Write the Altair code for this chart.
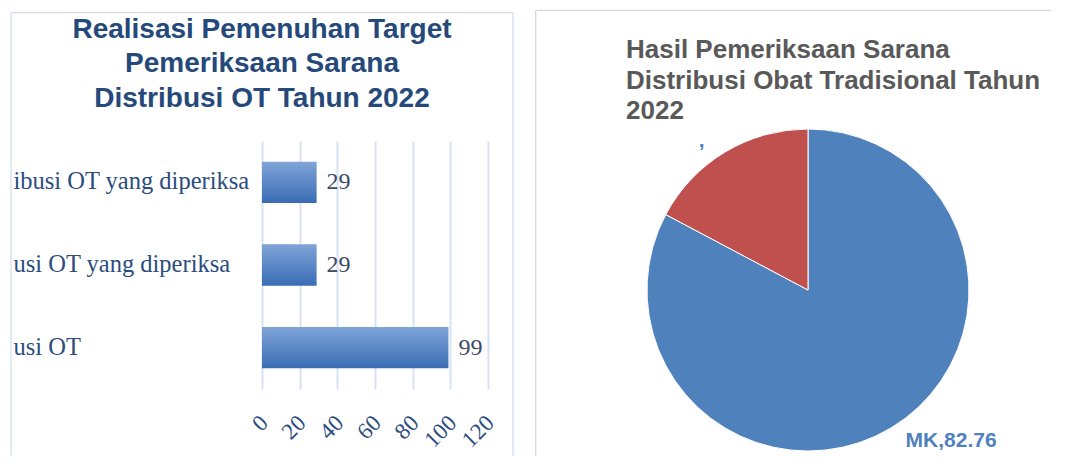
import altair as alt
import pandas as pd

# ---- data ----
bar_categories = ["ibusi OT yang diperiksa", "usi OT yang diperiksa", "usi OT"]
bar_values = [29, 29, 99]
x_ticks = [0, 20, 40, 60, 80, 100, 120]

pie_names = ["MK", "TMK"]
pie_values = [82.76, 17.24]
pie_labels = ["MK,82.76", ","]
pie_order = [0, 1]

left_title = ["Realisasi Pemenuhan Target", "Pemeriksaan Sarana", "Distribusi OT Tahun 2022"]
right_title = ["Hasil Pemeriksaan Sarana", "Distribusi Obat Tradisional Tahun", "2022"]

bar_df = pd.DataFrame({"kategori": bar_categories, "nilai": bar_values})
pie_df = pd.DataFrame({"nama": pie_names, "nilai": pie_values, "label": pie_labels, "urut": pie_order})
one = pd.DataFrame({"k": [0]})

SERIF = "Liberation Serif"
SANS = "Liberation Sans"
AXIS_BLUE = "#2B4C7E"

# ---- left: horizontal bar chart ----
y_axis = alt.Axis(title=None, domain=False, ticks=False, tickSize=0, grid=False,
                  labelAlign="left", labelPadding=249, labelFont=SERIF, labelFontSize=24.5,
                  labelColor=AXIS_BLUE, labelLimit=300)
x_axis = alt.Axis(title=None, values=x_ticks, tickCount=7, domain=False, ticks=False, tickSize=0,
                  grid=True, gridColor="#D6E1F2", gridWidth=2,
                  labelAngle=315, labelAlign="right", labelBaseline="middle",
                  labelPadding=30, labelOffset=2, labelOverlap=False,
                  labelFont=SERIF, labelFontSize=23, labelColor=AXIS_BLUE)
x_scale = alt.Scale(domain=[0, 120], nice=False)
y_scale = alt.Scale(paddingInner=0.5, paddingOuter=0.25)

bar_fill = alt.Gradient(
    gradient="linear",
    stops=[alt.GradientStop(color="#7FA4D7", offset=0), alt.GradientStop(color="#3A6CB4", offset=1)],
    x1=0, x2=0, y1=0, y2=1,
)
bars = alt.Chart(bar_df).mark_bar(color=bar_fill).encode(
    x=alt.X("nilai:Q", scale=x_scale, axis=x_axis),
    y=alt.Y("kategori:N", sort=bar_categories, scale=y_scale, axis=y_axis),
)
bar_text = alt.Chart(bar_df).mark_text(
    align="left", baseline="middle", dx=10, font=SERIF, fontSize=24, color="#3D4B66"
).encode(
    x=alt.X("nilai:Q", scale=x_scale, axis=x_axis),
    y=alt.Y("kategori:N", sort=bar_categories, scale=y_scale, axis=y_axis),
    text="nilai:Q",
)

LB = "#D3DFF1"
lb_left = alt.Chart(one).mark_rule(color=LB, strokeWidth=1.3).encode(
    x=alt.value(-251), y=alt.value(-128.3), y2=alt.value(315))
lb_top = alt.Chart(one).mark_rule(color=LB, strokeWidth=1.3).encode(
    x=alt.value(-251), x2=alt.value(251), y=alt.value(-128.3))
lb_right = alt.Chart(one).mark_rule(color=LB, strokeWidth=1.3).encode(
    x=alt.value(251), y=alt.value(-128.3), y2=alt.value(315))

left = alt.layer(bars, bar_text, lb_left, lb_top, lb_right).properties(
    width=226, height=248,
    title=alt.TitleParams(text=left_title, font=SANS, fontSize=28, fontWeight="bold",
                          color="#24497A", lineHeight=34.5, anchor="middle",
                          frame="bounds", offset=-100.6),
)

# ---- right: pie chart ----
arc = alt.Chart(pie_df).mark_arc(radius=161, stroke="white", strokeWidth=1).encode(
    theta=alt.Theta("nilai:Q", stack=True),
    color=alt.Color("nama:N", scale=alt.Scale(domain=pie_names, range=["#4F81BD", "#C0504D"]), legend=None),
    order=alt.Order("urut:Q"),
)
mk_text = alt.Chart(pie_df).transform_calculate(
    t="datum.nama === 'MK' ? datum.label : ''"
).mark_text(radius=200, dx=40, dy=-20, font=SANS, fontSize=21, fontWeight="bold",
            color="#4F81BD").encode(
    theta=alt.Theta("nilai:Q", stack=True), order=alt.Order("urut:Q"), text="t:N")
other_text = alt.Chart(pie_df).transform_calculate(
    t="datum.nama === 'MK' ? '' : datum.label"
).mark_text(radius=179, dx=-14, dy=4, font=SANS, fontSize=21, fontWeight="bold",
            color="#4F81BD").encode(
    theta=alt.Theta("nilai:Q", stack=True), order=alt.Order("urut:Q"), text="t:N")

GB = "#D9D9D9"
rb_left = alt.Chart(one).mark_rule(color=GB, strokeWidth=1.3).encode(
    x=alt.value(-111.3), y=alt.value(-130.7), y2=alt.value(315))
rb_top = alt.Chart(one).mark_rule(color=GB, strokeWidth=1.3).encode(
    x=alt.value(-111.3), x2=alt.value(404), y=alt.value(-130.7))

right = alt.layer(arc, mk_text, other_text, rb_left, rb_top).properties(
    width=322, height=298,
    title=alt.TitleParams(text=right_title, font=SANS, fontSize=26, fontWeight="bold",
                          color="#595959", lineHeight=30.5, anchor="start",
                          frame="group", dx=-21, offset=-114.8),
)

chart = alt.hconcat(left, right, spacing=21).properties(
    padding={"left": 2, "top": 1, "right": 0, "bottom": 0},
    background="white",
).configure_view(stroke=None)

chart.save("out.html", embed_options={"renderer": "svg", "actions": False})
